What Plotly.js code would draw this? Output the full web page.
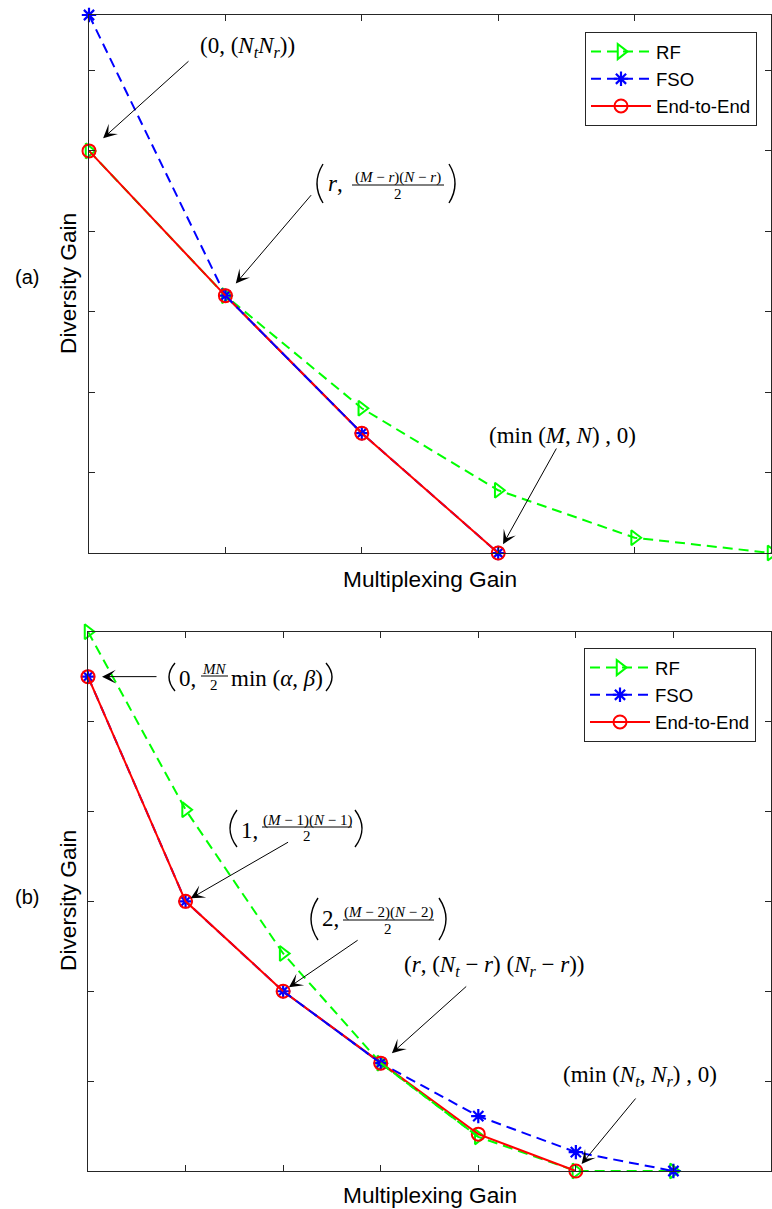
<!DOCTYPE html>
<html><head><meta charset="utf-8">
<script src="https://cdn.plot.ly/plotly-3.0.1.min.js"></script>
<style>html,body{margin:0;padding:0;background:#fff;} #chart{width:772px;height:1209px;}</style>
</head><body><div id="chart"></div>
<script>
// ---------------- data: panel (a) ----------------
const xA   = [0, 1, 2, 3, 4, 5];
const rfA  = [5.0, 3.2, 1.8, 0.78, 0.19, 0];
const fsoA = [6.69, 3.2, 1.49, 0];
const e2eA = [5.0, 3.2, 1.49, 0];
// ---------------- data: panel (b) ----------------
const xB   = [0, 1, 2, 3, 4, 5, 6];
const rfB  = [6.0, 4.02, 2.42, 1.2, 0.38, 0, 0];
const fsoB = [5.5, 3.0, 2.0, 1.2, 0.61, 0.21, 0];
const e2eB = [5.5, 3.0, 2.0, 1.2, 0.41, 0];
const names = ['RF', 'FSO', 'End-to-End'];

// ---------------- styles ----------------
const GREEN = '#00FF00', BLUE = '#0000FF', RED = '#FF0000', AX = '#262626';
const DASH = '10px,6px';
const SANS = 'Liberation Sans, Arial, Helvetica, sans-serif';
const SERIF = 'Liberation Serif, Times New Roman, serif';

function rf(x, y, xa, ya, leg) {
  return {x: x.slice(0, y.length), y, xaxis: xa, yaxis: ya, name: names[0], legend: leg, mode: 'lines+markers',
    line: {color: GREEN, width: 2, dash: DASH},
    marker: {symbol: 'triangle-right-open', size: 13, color: GREEN, line: {width: 2, color: GREEN}},
    cliponaxis: false, hoverinfo: 'skip'};
}
function fso(x, y, xa, ya, leg) {
  return {x: x.slice(0, y.length), y, xaxis: xa, yaxis: ya, name: names[1], legend: leg, mode: 'lines+markers',
    line: {color: BLUE, width: 2, dash: DASH},
    marker: {symbol: 'asterisk-open', size: 12, color: BLUE, line: {width: 2.2, color: BLUE}},
    cliponaxis: false, hoverinfo: 'skip'};
}
function e2e(x, y, xa, ya, leg) {
  return {x: x.slice(0, y.length), y, xaxis: xa, yaxis: ya, name: names[2], legend: leg, mode: 'lines+markers',
    line: {color: RED, width: 2},
    marker: {symbol: 'circle-open', size: 13, color: RED, line: {width: 2, color: RED}},
    cliponaxis: false, hoverinfo: 'skip'};
}
function seg(x, y, i0, i1, color, xa, ya) {
  return {x: x.slice(i0, i1 + 1), y: y.slice(i0, i1 + 1), xaxis: xa, yaxis: ya, mode: 'lines',
    line: {color: color, width: 2, dash: DASH}, showlegend: false, hoverinfo: 'skip', cliponaxis: false};
}

const data = [
  rf(xA, rfA, 'x', 'y', 'legend'), fso(xA, fsoA, 'x', 'y', 'legend'), e2e(xA, e2eA, 'x', 'y', 'legend'),
  seg(xA, fsoA, 1, 2, BLUE, 'x', 'y'),
  rf(xB, rfB, 'x2', 'y2', 'legend2'), fso(xB, fsoB, 'x2', 'y2', 'legend2'), e2e(xB, e2eB, 'x2', 'y2', 'legend2'),
  seg(xB, fsoB, 2, 3, BLUE, 'x2', 'y2'), seg(xB, rfB, 3, 4, GREEN, 'x2', 'y2')
];

// ---------------- geometry helpers (pixel -> paper) ----------------
const L = 88, R = 771, T = 15, B = 1171;
const px = v => (v - L) / (R - L);
const py = v => (B - v) / (B - T);

const axisStyle = {showline: true, linecolor: AX, linewidth: 1, mirror: 'ticks', ticks: 'inside', ticklen: 6,
  tickcolor: AX, tickwidth: 1, showticklabels: false, showgrid: false, zeroline: false, fixedrange: true};

function txt(x, y, text, size, anchor, family, angle) {
  return {xref: 'paper', yref: 'paper', x: px(x), y: py(y), text: text, showarrow: false,
    xanchor: anchor || 'left', yanchor: 'middle', textangle: angle || 0,
    font: {family: family || SERIF, size: size || 23, color: '#000'}};
}
function arrow(xa, ya, x, y, ax, ay, standoff) {
  return {xref: xa, yref: ya, x: x, y: y, ax: ax, ay: ay, axref: 'pixel', ayref: 'pixel', text: '',
    showarrow: true, arrowhead: 3, arrowsize: 2.3, arrowwidth: 1, arrowcolor: '#000', standoff: standoff};
}
const shapes = [];
function paren(x0, x1, y0, y1, left) {
  const m = (y0 + y1) / 2;
  let d;
  if (left) d = 'M' + px(x1) + ',' + py(y0) + ' Q' + px(2 * x0 - x1) + ',' + py(m) + ' ' + px(x1) + ',' + py(y1);
  else d = 'M' + px(x0) + ',' + py(y0) + ' Q' + px(2 * x1 - x0) + ',' + py(m) + ' ' + px(x0) + ',' + py(y1);
  shapes.push({type: 'path', xref: 'paper', yref: 'paper', path: d, line: {color: '#000', width: 1.4}});
}
function bar(x0, x1, y) {
  shapes.push({type: 'line', xref: 'paper', yref: 'paper', x0: px(x0), x1: px(x1), y0: py(y), y1: py(y),
    line: {color: '#000', width: 1}});
}

const ann = [];
// axis titles and panel labels
ann.push(txt(68, 284, 'Diversity Gain', 22.7, 'center', SANS, -90));
ann.push(txt(430, 579, 'Multiplexing Gain', 22.7, 'center', SANS));
ann.push(txt(68, 901, 'Diversity Gain', 22.7, 'center', SANS, -90));
ann.push(txt(430, 1195, 'Multiplexing Gain', 22.7, 'center', SANS));
ann.push(txt(13, 277, '(a)', 20, 'left', SANS));
ann.push(txt(13, 897, '(b)', 20, 'left', SANS));

// ---- panel (a) labels ----
ann.push(txt(198, 47, '(0, (<i>N</i><sub><i>t</i></sub><i>N</i><sub><i>r</i></sub>))'));
paren(317, 323, 164, 203, true);
ann.push(txt(326, 184, '<i>r</i>,'));
ann.push(txt(398, 177, '(<i>M</i> − <i>r</i>)(<i>N</i> − <i>r</i>)', 15, 'center'));
bar(352, 444, 185);
ann.push(txt(398, 194, '2', 15, 'center'));
paren(449, 455, 164, 203, false);
ann.push(txt(487, 435, '(min (<i>M</i>, <i>N</i>) , 0)'));

// ---- panel (b) labels ----
paren(169, 175, 663, 691, true);
ann.push(txt(177, 678, '0,'));
ann.push(txt(214, 669, '<i>MN</i>', 15, 'center'));
bar(201, 228, 676);
ann.push(txt(214, 685, '2', 15, 'center'));
ann.push(txt(229, 678, 'min (<i>α</i>, <i>β</i>)'));
paren(326, 332, 663, 691, false);

paren(230, 237, 810, 847, true);
ann.push(txt(239, 830, '1,'));
ann.push(txt(307, 820, '(<i>M</i> − 1)(<i>N</i> − 1)', 15, 'center'));
bar(262, 352, 827);
ann.push(txt(307, 836, '2', 15, 'center'));
paren(355, 362, 810, 847, false);

paren(311, 318, 898, 940, true);
ann.push(txt(320, 918, '2,'));
ann.push(txt(388, 912, '(<i>M</i> − 2)(<i>N</i> − 2)', 15, 'center'));
bar(343, 434, 920);
ann.push(txt(388, 929, '2', 15, 'center'));
paren(439, 446, 898, 940, false);

ann.push(txt(402, 966, '(<i>r</i>, (<i>N</i><sub><i>t</i></sub> − <i>r</i>) (<i>N</i><sub><i>r</i></sub> − <i>r</i>))'));
ann.push(txt(561, 1076, '(min (<i>N</i><sub><i>t</i></sub>, <i>N</i><sub><i>r</i></sub>) , 0)'));

// ---- arrows (heads point at data points) ----
ann.push(arrow('x', 'y', xA[0], e2eA[0], 101, -91, 19));
ann.push(arrow('x', 'y', xA[1], e2eA[1], 87, -102, 16));
ann.push(arrow('x', 'y', xA[3], e2eA[3], 59, -106, 10));
ann.push(arrow('x2', 'y2', xB[0], e2eB[0], 70, 0, 14));
ann.push(arrow('x2', 'y2', xB[1], e2eB[1], 104, -60, 6));
ann.push(arrow('x2', 'y2', xB[2], e2eB[2], 76, -52, 7));
ann.push(arrow('x2', 'y2', xB[3], e2eB[3], 87, -78, 15));
ann.push(arrow('x2', 'y2', xB[5], e2eB[5], 61, -74, 9));

const legendStyle = {xanchor: 'right', yanchor: 'top', bgcolor: '#fff', bordercolor: AX, borderwidth: 1,
  font: {family: SANS, size: 18.6, color: '#000'}, tracegroupgap: 0, traceorder: 'normal', itemwidth: 60};

const layout = {
  width: 772, height: 1209, margin: {l: L, r: 772 - R, t: T, b: 1209 - B},
  paper_bgcolor: '#fff', plot_bgcolor: '#fff', showlegend: true,
  xaxis: Object.assign({}, axisStyle, {domain: [px(89), 1], range: [0, 5], anchor: 'y', tickvals: [0, 1, 2, 3, 4, 5]}),
  yaxis: Object.assign({}, axisStyle, {domain: [py(553), 1], range: [0, 6.69], anchor: 'x', tickvals: [0, 1, 2, 3, 4, 5, 6]}),
  xaxis2: Object.assign({}, axisStyle, {domain: [0, 1], range: [0, 7], anchor: 'y2', tickvals: [0, 1, 2, 3, 4, 5, 6, 7]}),
  yaxis2: Object.assign({}, axisStyle, {domain: [0, py(631.7)], range: [0, 6], anchor: 'x2', tickvals: [0, 1, 2, 3, 4, 5, 6]}),
  legend: Object.assign({}, legendStyle, {x: px(757), y: py(32)}),
  legend2: Object.assign({}, legendStyle, {x: px(756), y: py(648)}),
  annotations: ann,
  shapes: shapes
};

Plotly.newPlot('chart', data, layout, {staticPlot: true, displayModeBar: false});
</script>
</body></html>
